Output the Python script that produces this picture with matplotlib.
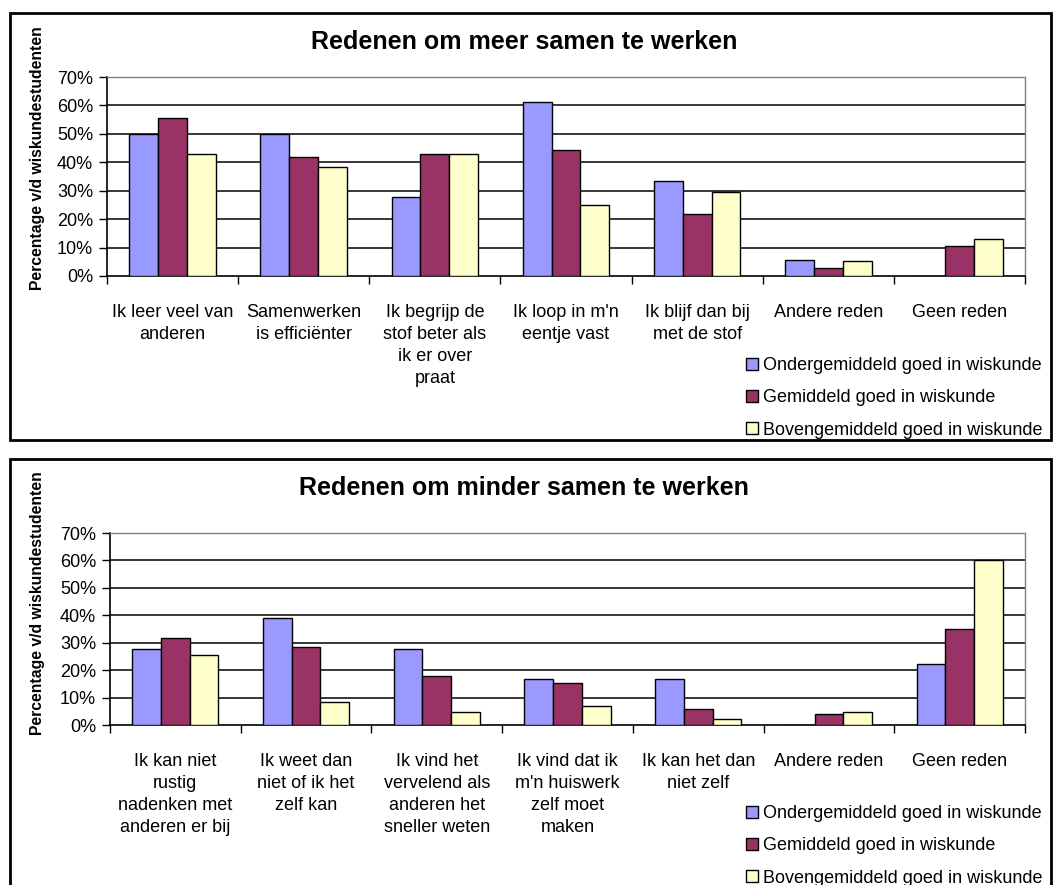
import matplotlib.pyplot as plt
import numpy as np
from matplotlib.patches import Rectangle

plt.rcParams["font.family"] = ["Liberation Sans", "DejaVu Sans"]

W, H = 1053, 885

SERIES = [
    "Ondergemiddeld goed in wiskunde",
    "Gemiddeld goed in wiskunde",
    "Bovengemiddeld goed in wiskunde",
]
COLORS = ["#9999FF", "#993366", "#FFFFCC"]

MEER_TITLE = "Redenen om meer samen te werken"
MEER_LABELS = [
    "Ik leer veel van\nanderen",
    "Samenwerken\nis efficiënter",
    "Ik begrijp de\nstof beter als\nik er over\npraat",
    "Ik loop in m'n\neentje vast",
    "Ik blijf dan bij\nmet de stof",
    "Andere reden",
    "Geen reden",
]
MEER_ONDER = [50.0, 50.0, 27.8, 61.1, 33.3, 5.6, 0.0]
MEER_GEM = [55.7, 41.8, 43.0, 44.4, 21.7, 2.7, 10.6]
MEER_BOVEN = [43.0, 38.5, 43.0, 25.1, 29.6, 5.3, 13.1]

MINDER_TITLE = "Redenen om minder samen te werken"
MINDER_LABELS = [
    "Ik kan niet\nrustig\nnadenken met\nanderen er bij",
    "Ik weet dan\nniet of ik het\nzelf kan",
    "Ik vind het\nvervelend als\nanderen het\nsneller weten",
    "Ik vind dat ik\nm'n huiswerk\nzelf moet\nmaken",
    "Ik kan het dan\nniet zelf",
    "Andere reden",
    "Geen reden",
]
MINDER_ONDER = [27.8, 38.9, 27.8, 16.7, 16.7, 0.0, 22.2]
MINDER_GEM = [31.7, 28.3, 17.9, 15.2, 5.7, 4.1, 35.1]
MINDER_BOVEN = [25.5, 8.4, 4.9, 7.0, 2.3, 4.9, 60.3]

Y_TICKS = [0, 10, 20, 30, 40, 50, 60, 70]


def px_rect(left, top, right, bottom):
    return [left / W, 1 - bottom / H, (right - left) / W, (bottom - top) / H]


def draw_panel(fig, frame_box, ax_box, title, title_y, ylabel_y, labels, values, legend_top):
    left, top, right, bottom = frame_box
    fig.add_artist(Rectangle((left / W, 1 - bottom / H), (right - left) / W, (bottom - top) / H,
                             transform=fig.transFigure, fill=False, lw=2, ec="black"))

    ax = fig.add_axes(px_rect(*ax_box))
    x = np.arange(len(labels))
    width = 0.22
    bars = []
    for k, (series_values, color) in enumerate(zip(values, COLORS)):
        b = ax.bar(x + (k - 1) * width, series_values, width, color=color,
                   edgecolor="black", linewidth=1, zorder=3)
        bars.append(b)

    ax.set_xlim(-0.5, len(labels) - 0.5)
    ax.set_ylim(0, 70)
    ax.hlines(Y_TICKS[1:-1], -0.5, len(labels) - 0.5, colors="black", linewidth=1.1, zorder=1)

    ax.set_yticks(Y_TICKS, [f"{v}%" for v in Y_TICKS], fontsize=13)
    ax.tick_params(axis="y", direction="out", length=6, width=1, pad=4)
    ax.set_xticks(x, labels, fontsize=13, linespacing=1.4)
    ax.set_xticks(np.arange(-0.5, len(labels), 1), minor=True)
    ax.tick_params(axis="x", which="major", length=0, pad=20)
    ax.tick_params(axis="x", which="minor", direction="out", length=6, width=1)

    for side in ("top", "right"):
        ax.spines[side].set_color("#808080")
        ax.spines[side].set_linewidth(1)
    for side in ("left", "bottom"):
        ax.spines[side].set_color("black")
        ax.spines[side].set_linewidth(1.2)

    fig.text(524 / W, 1 - title_y / H, title, ha="center", va="center",
             fontsize=18, fontweight="bold")
    fig.text(38 / W, 1 - ylabel_y / H, "Percentage v/d wiskundestudenten",
             rotation=90, ha="center", va="center", fontsize=11.3, fontweight="bold")

    fig.legend(bars, SERIES, loc="upper left", bbox_to_anchor=(746 / W, 1 - legend_top / H),
               frameon=False, fontsize=13, handlelength=0.65, handleheight=0.65,
               handletextpad=0.3, labelspacing=0.85, borderpad=0, borderaxespad=0)
    return ax


def main():
    fig = plt.figure(figsize=(W / 100, H / 100), dpi=100)

    draw_panel(fig, (10, 13, 1051, 440), (107, 77, 1025, 276), MEER_TITLE, 42, 158,
               MEER_LABELS, [MEER_ONDER, MEER_GEM, MEER_BOVEN], 357)
    draw_panel(fig, (10, 459, 1051, 892), (110, 533, 1025, 725), MINDER_TITLE, 488, 603,
               MINDER_LABELS, [MINDER_ONDER, MINDER_GEM, MINDER_BOVEN], 805)

    fig.savefig("out.png", dpi=100, facecolor="white")


if __name__ == "__main__":
    main()
